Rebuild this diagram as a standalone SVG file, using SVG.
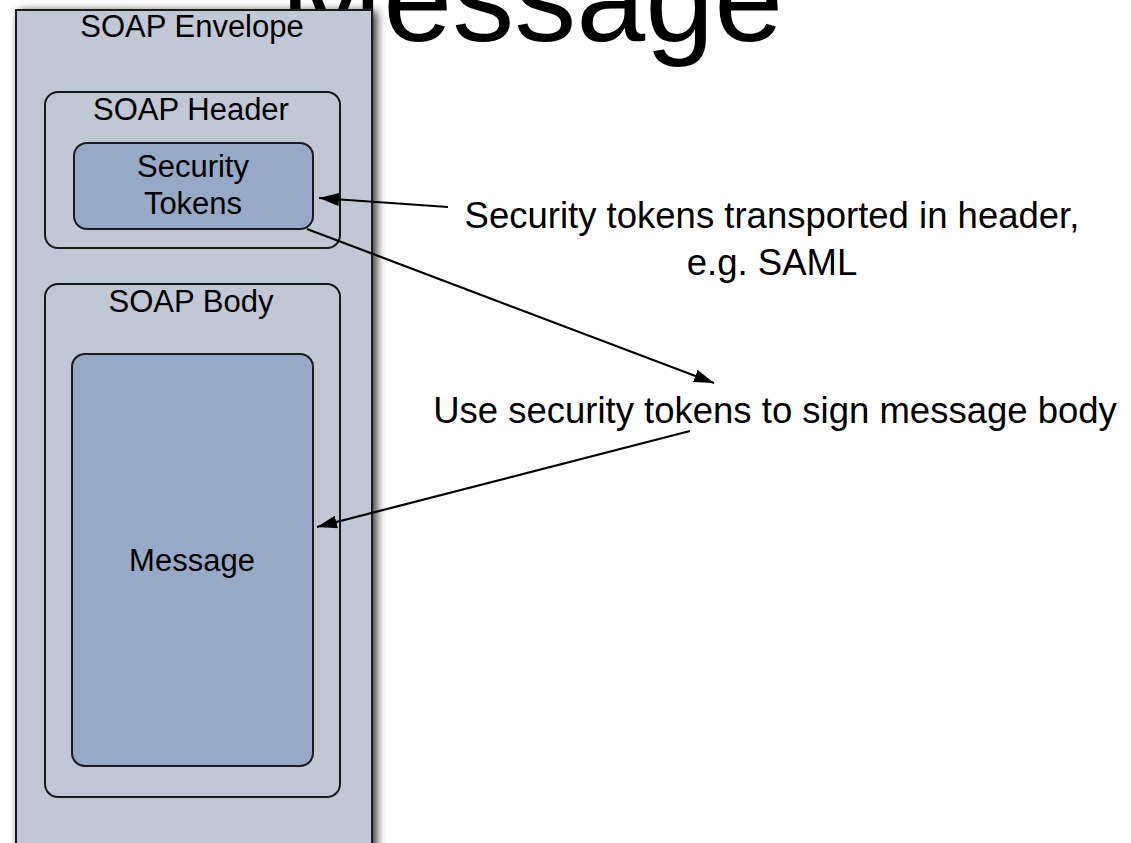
<svg xmlns="http://www.w3.org/2000/svg" width="1131" height="843" viewBox="0 0 1131 843">
  <defs>
    <filter id="shadow" x="-20%" y="-20%" width="140%" height="140%">
      <feGaussianBlur in="SourceAlpha" stdDeviation="5"/>
      <feOffset dx="4" dy="2" result="blur"/>
      <feComponentTransfer><feFuncA type="linear" slope="0.8"/></feComponentTransfer>
      <feMerge><feMergeNode/><feMergeNode in="SourceGraphic"/></feMerge>
    </filter>
    <marker id="head" markerUnits="userSpaceOnUse" markerWidth="22" markerHeight="14" refX="20" refY="6.5" orient="auto">
      <path d="M0,0 L20,6.5 L0,13 Z" fill="#000"/>
    </marker>
  </defs>
  <style>
    .label { font-family: "Liberation Sans", Arial, sans-serif; fill: #000; }
    .box { font-size: 31px; text-anchor: middle; }
    .note { font-size: 36.5px; text-anchor: middle; }
    .panel { fill: #c1c7d4; stroke: #1a1a1a; stroke-width: 2; }
    .part { fill: #98a9c7; stroke: #1a1a1a; stroke-width: 2; }
    .wire { fill: none; stroke: #000; stroke-width: 2.2; marker-end: url(#head); }
  </style>

  <rect width="1131" height="843" fill="#fff"/>

  <!-- slide title, partly covered by the envelope -->
  <text id="title" class="label" x="280" y="41" font-size="124">Message</text>

  <g id="envelope">
    <rect class="panel" x="16" y="10" width="356" height="850" filter="url(#shadow)"/>
    <text class="label box" x="192" y="37">SOAP Envelope</text>
  </g>

  <g id="header">
    <rect class="panel" x="45" y="92" width="295" height="156" rx="13"/>
    <text class="label box" x="191" y="120">SOAP Header</text>
  </g>

  <g id="tokens">
    <rect class="part" x="74" y="143" width="239" height="86" rx="13"/>
    <text class="label box" x="193" y="177">Security</text>
    <text class="label box" x="193" y="214">Tokens</text>
  </g>

  <g id="body">
    <rect class="panel" x="45" y="284" width="295" height="513" rx="13"/>
    <text class="label box" x="191" y="312">SOAP Body</text>
  </g>

  <g id="message">
    <rect class="part" x="72" y="354" width="241" height="412" rx="13"/>
    <text class="label box" x="192" y="571">Message</text>
  </g>

  <g id="notes">
    <text class="label note" x="772" y="228">Security tokens transported in header,</text>
    <text class="label note" x="772" y="275">e.g. SAML</text>
    <text class="label note" x="775" y="423">Use security tokens to sign message body</text>
  </g>

  <g id="connectors">
    <line class="wire" x1="448" y1="207" x2="319" y2="198"/>
    <line class="wire" x1="307" y1="229" x2="714" y2="383"/>
    <line class="wire" x1="690" y1="431" x2="317" y2="527"/>
  </g>
</svg>
